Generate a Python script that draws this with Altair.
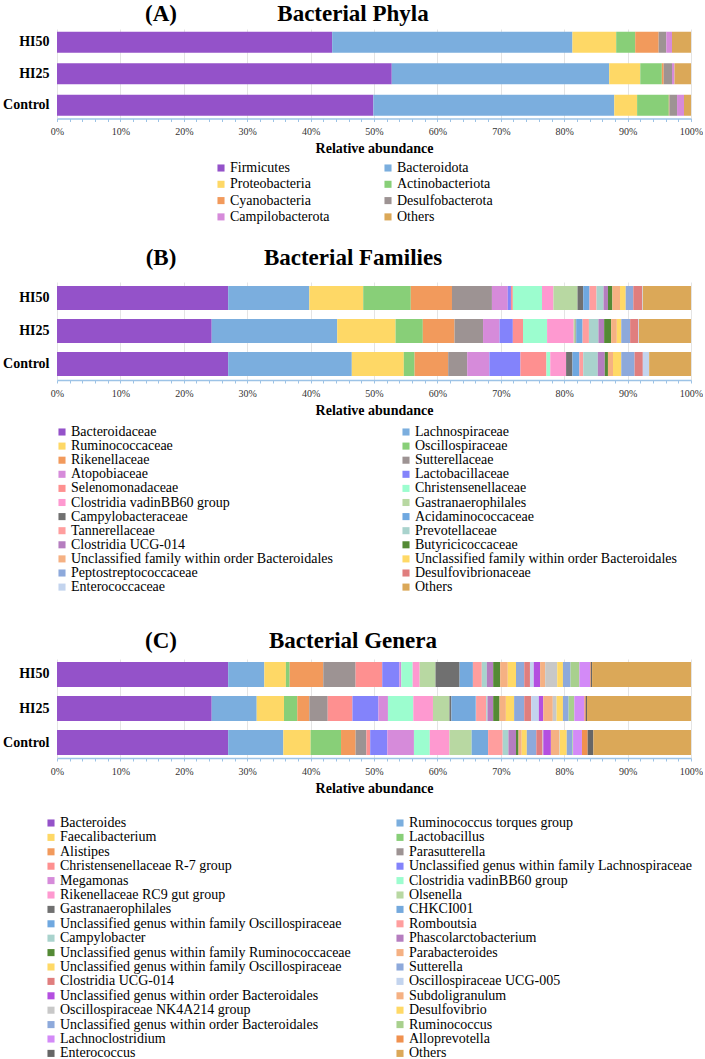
import altair as alt
import pandas as pd

SERIF = "Liberation Serif"

groups = ["HI50", "HI25", "Control"]

# ---- (A) phyla ----
phyla = ["Firmicutes", "Bacteroidota", "Proteobacteria", "Actinobacteriota",
         "Cyanobacteria", "Desulfobacterota", "Campilobacterota", "Others"]
phyla_colors = ["#9452C9", "#7BAEDE", "#FED866", "#88CF78",
                "#F29A5C", "#9D9393", "#D68BDA", "#DBA858"]
phyla_hi50 = [43.4, 37.9, 6.9, 3.0, 3.7, 1.2, 0.9, 3.0]
phyla_hi25 = [52.8, 34.3, 4.9, 3.4, 0.3, 1.3, 0.4, 2.6]
phyla_control = [49.9, 38.0, 3.6, 5.0, 0.1, 1.2, 1.1, 1.1]

# ---- (B) families ----
families = ["Bacteroidaceae", "Lachnospiraceae", "Ruminococcaceae", "Oscillospiraceae",
            "Rikenellaceae", "Sutterellaceae", "Atopobiaceae", "Lactobacillaceae",
            "Selenomonadaceae", "Christensenellaceae", "Clostridia vadinBB60 group",
            "Gastranaerophilales", "Campylobacteraceae", "Acidaminococcaceae",
            "Tannerellaceae", "Prevotellaceae", "Clostridia UCG-014", "Butyricicoccaceae",
            "Unclassified family within order Bacteroidales",
            "Unclassified family within order Bacteroidales ",
            "Peptostreptococcaceae", "Desulfovibrionaceae", "Enterococcaceae", "Others"]
family_colors = ["#9452C9", "#7BAEDE", "#FED866", "#88CF78",
                 "#F29A5C", "#9D9393", "#D68BDA", "#8383FB",
                 "#FE9090", "#9CFDCF", "#FE99D0",
                 "#B8D8A2", "#707070", "#6FA8E0",
                 "#FF9E9E", "#A9D3CD", "#B57DBF", "#548A35",
                 "#F5B183", "#FFD966",
                 "#8DA9DB", "#E07E7E", "#C3D4EE", "#DBA858"]
family_hi50 = [27.0, 12.8, 8.5, 7.5, 6.5, 6.3, 2.5, 0.5, 0.3, 4.6, 1.8, 3.8,
               0.9, 1.0, 1.1, 1.1, 0.7, 0.7, 1.2, 0.9, 1.2, 1.4, 0.1, 7.6]
family_hi25 = [24.4, 19.8, 9.2, 4.3, 5.0, 4.5, 2.6, 2.1, 1.6, 3.8, 4.2, 0.3,
               0.1, 1.0, 1.0, 1.5, 0.9, 1.1, 0.9, 0.7, 1.4, 1.3, 0.1, 8.2]
family_control = [27.0, 19.5, 8.2, 1.7, 5.3, 3.0, 3.5, 4.9, 4.1, 0.6, 2.5, 0.0,
                  1.0, 1.1, 0.6, 2.3, 1.1, 0.5, 0.8, 1.3, 2.1, 1.3, 1.0, 6.6]

# ---- (C) genera ----
genera = ["Bacteroides", "Ruminococcus torques group", "Faecalibacterium", "Lactobacillus",
          "Alistipes", "Parasutterella", "Christensenellaceae R-7 group",
          "Unclassified genus within family Lachnospiraceae", "Megamonas",
          "Clostridia vadinBB60 group", "Rikenellaceae RC9 gut group", "Olsenella",
          "Gastranaerophilales", "CHKCI001",
          "Unclassified genus within family Oscillospiraceae", "Romboutsia",
          "Campylobacter", "Phascolarctobacterium",
          "Unclassified genus within family Ruminococcaceae", "Parabacteroides",
          "Unclassified genus within family Oscillospiraceae ", "Sutterella",
          "Clostridia UCG-014", " Oscillospiraceae UCG-005",
          "Unclassified genus within order Bacteroidales", "Subdoligranulum",
          "Oscillospiraceae NK4A214 group", "Desulfovibrio",
          "Unclassified genus within order Bacteroidales ", "Ruminococcus",
          "Lachnoclostridium", "Alloprevotella", "Enterococcus", "Others"]
genus_colors = ["#9452C9", "#7BAEDE", "#FED866", "#88CF78",
                "#F29A5C", "#9D9393", "#FE9090",
                "#8383FB", "#D68BDA",
                "#9CFDCF", "#FE99D0", "#B8D8A2",
                "#707070", "#74A9DD",
                "#6FA8E0", "#FF9E9E",
                "#A9D3CD", "#B57DBF",
                "#548A35", "#F5B183",
                "#FFD966", "#8DA9DB",
                "#E07E7E", "#C3D4EE",
                "#B44FE0", "#F5B183",
                "#C8C8C8", "#FFD966",
                "#8DA9DB", "#A8D08D",
                "#D38AF7", "#F0914F", "#666666", "#DBA858"]
genus_hi50 = [27.0, 5.7, 3.4, 0.6, 5.3, 5.1, 4.2, 2.7, 0.3, 1.8, 1.1, 2.5, 3.8, 2.1,
              0.0, 1.4, 0.8, 1.0, 1.1, 1.2, 1.3, 1.3, 0.9, 0.6, 1.0, 0.8, 1.9, 0.9,
              1.2, 1.4, 1.7, 0.1, 0.2, 15.6]
genus_hi25 = [24.4, 7.1, 4.3, 2.1, 1.9, 2.9, 3.9, 4.1, 1.5, 4.0, 3.1, 2.6, 0.3, 3.8,
              0.1, 1.6, 0.2, 0.9, 1.0, 1.0, 1.3, 1.6, 1.1, 1.2, 0.7, 1.5, 0.6, 1.0,
              0.9, 0.9, 1.6, 0.2, 0.2, 16.4]
genus_control = [27.0, 8.7, 4.3, 4.8, 2.3, 1.7, 0.6, 2.7, 4.2, 2.5, 3.1, 3.5, 0.0, 2.6,
                 0.0, 2.3, 0.9, 1.2, 0.4, 0.5, 0.8, 1.5, 1.0, 0.1, 1.2, 1.3, 0.1, 1.1,
                 0.9, 0.1, 1.4, 0.9, 0.9, 15.4]

PLOT_W = 634


def panel(letter, heading, names, colors, series, height, pad_in, pad_out,
          head_y, legend_x, legend_y, col_pad, row_pad, label_size):
    rows = []
    for g, vals in zip(groups, series):
        for i, (n, v) in enumerate(zip(names, vals)):
            rows.append({"group": g, "taxon": n, "idx": i, "value": v})
    df = pd.DataFrame(rows)

    # The two-column legend fills column by column, so list the
    # even-indexed entries first to read across rows in stacking order.
    legend_domain = names[0::2] + names[1::2]
    legend_range = colors[0::2] + colors[1::2]

    x_axis = alt.Axis(
        title="Relative abundance", titleFont=SERIF, titleFontSize=14,
        titleFontWeight="bold", titleColor="black", titlePadding=5,
        values=list(range(0, 101, 2)),
        labelExpr="datum.value % 10 === 0 ? datum.value + '%' : ''",
        labelFont=SERIF, labelFontSize=10, labelColor="#333333",
        labelPadding=5, labelFlush=False, labelOverlap=False, labelBound=False,
        domainColor="#9DC3E6", domainWidth=1.5,
        tickColor="#9DC3E6", tickSize=3, tickWidth=1,
        grid=True, gridColor="#E4E4E4",
        gridOpacity={"condition": {"test": "datum.value % 10 === 0", "value": 1}, "value": 0},
    )
    y_axis = alt.Axis(title=None, labelFont=SERIF, labelFontSize=14,
                      labelFontWeight="bold", labelColor="black", labelPadding=8,
                      ticks=False, domain=False)

    bars = alt.Chart(df).mark_bar().encode(
        x=alt.X("value:Q", stack="zero",
                scale=alt.Scale(domain=[0, 100], nice=False), axis=x_axis),
        y=alt.Y("group:N", sort=groups,
                scale=alt.Scale(paddingInner=pad_in, paddingOuter=pad_out), axis=y_axis),
        color=alt.Color("taxon:N",
                        scale=alt.Scale(domain=legend_domain, range=legend_range),
                        legend=alt.Legend(title=None, orient="none",
                                          legendX=legend_x, legendY=legend_y,
                                          columns=2, columnPadding=col_pad,
                                          rowPadding=row_pad, padding=0,
                                          symbolLimit=60,
                                          symbolType="square", symbolSize=50,
                                          symbolStrokeWidth=0, labelOffset=2,
                                          labelFont=SERIF, labelFontSize=label_size,
                                          labelColor="black", labelLimit=500)),
        order=alt.Order("idx:Q"),
    )

    head = pd.DataFrame({"letter": [letter], "heading": [heading]})
    letter_text = alt.Chart(head).mark_text(
        font=SERIF, fontSize=23, fontWeight="bold", color="black", baseline="middle"
    ).encode(text="letter:N", x=alt.value(104), y=alt.value(head_y))
    heading_text = alt.Chart(head).mark_text(
        font=SERIF, fontSize=23, fontWeight="bold", color="black", baseline="middle"
    ).encode(text="heading:N", x=alt.value(296), y=alt.value(head_y))

    return alt.layer(bars, letter_text, heading_text).properties(
        width=PLOT_W, height=height)


panel_a = panel("(A)", "Bacterial Phyla", phyla, phyla_colors,
                [phyla_hi50, phyla_hi25, phyla_control],
                89.5, 0.333, 0.087, -15, 157, 132, 51, 2.3, 14)
panel_b = panel("(B)", "Bacterial Families", families, family_colors,
                [family_hi50, family_hi25, family_control],
                98, 0.273, 0.121, -24, -2, 143, 65, 0.1, 14)
panel_c = panel("(C)", "Bacterial Genera", genera, genus_colors,
                [genus_hi50, genus_hi25, genus_control],
                99, 0.265, 0.088, -18, -13, 157, 42, 0.4, 14)

top_pair = alt.vconcat(panel_a, panel_b, spacing=23).resolve_scale(color="independent")

chart = alt.vconcat(top_pair, panel_c, spacing=35).resolve_scale(
    color="independent"
).properties(
    padding={"left": 2, "top": 3, "right": 0, "bottom": 0},
    background="white",
).configure_view(strokeWidth=0)

chart.save("out.html", embed_options={"renderer": "svg", "actions": False})
